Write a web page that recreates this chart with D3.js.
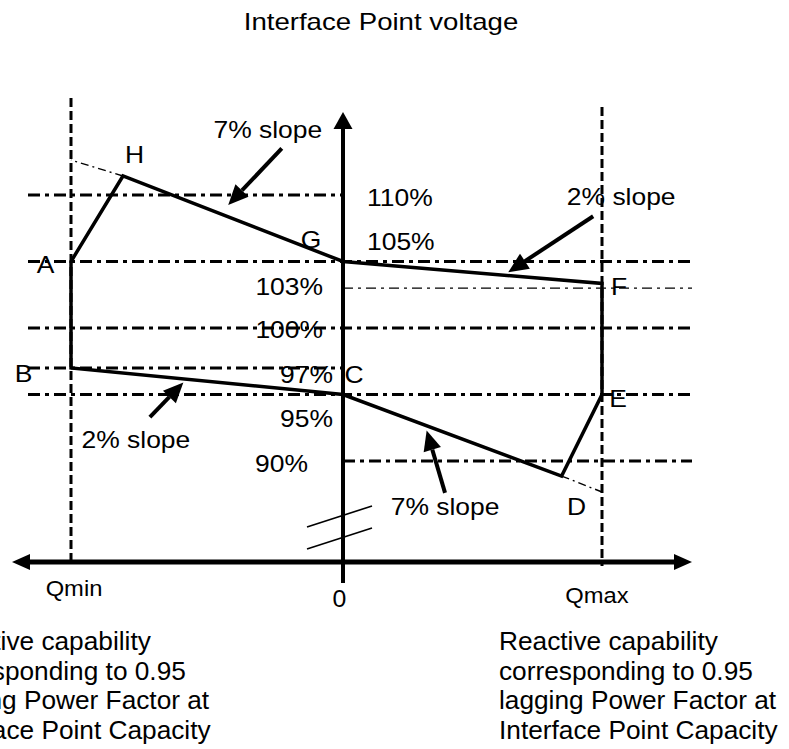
<!DOCTYPE html>
<html>
<head>
<meta charset="utf-8">
<script src="https://cdn.jsdelivr.net/npm/d3@7"></script>
<style>
  body { margin: 0; background: #FFFFFF; }
  svg { display: block; font-family: "Liberation Sans", Arial, sans-serif; }
</style>
</head>
<body>
<svg width="789" height="749"></svg>
<script>
//--Data
//Voltage reference levels (%)
const refLevels = [110, 105, 103, 100, 97, 95, 90];
const refLabels = ["110%", "105%", "103%", "100%", "97%", "95%", "90%"];
const refSpan = ["left", "full", "right", "full", "left", "full", "right"];

//Capability curve corners (Q in per unit of Qmin/Qmax, V in %)
const cornerNames = ["A", "H", "G", "F", "E", "D", "C", "B"];
const cornerQ = [-1, -0.809, 0, 1, 1, 0.844, 0, -1];
const cornerV = [105, 111.43, 105, 103.35, 95, 88.87, 95, 97];

//Slope extensions beyond H and D
const extFromQ = [-0.809, 0.844];
const extFromV = [111.43, 88.87];
const extToQ = [-1, 1];
const extToV = [112.63, 87.67];

//Slope annotation arrows
const arrowText = ["7% slope", "2% slope", "2% slope", "7% slope"];
const arrowTailQ = [-0.225, 0.966, -0.71, 0.394];
const arrowTailV = [113.5, 108.4, 93.3, 87.6];
const arrowTipQ = [-0.422, 0.638, -0.587, 0.323];
const arrowTipV = [109.25, 104.2, 95.9, 92.3];

//Q axis labels
const qTicks = [-1, 0, 1];
const qTickLabels = ["Qmin", "0", "Qmax"];

const noteLines = [
  ["Reactive capability", "corresponding to 0.95", "leading Power Factor at", "Interface Point Capacity"],
  ["Reactive capability", "corresponding to 0.95", "lagging Power Factor at", "Interface Point Capacity"]
];


//--Setup
const canvas = {
  width: 789,
  height: 749,
  left: 28,
  right: 692,
  arrowLeft: 12,
  axisY: 562,
  axisTop: 112,
  axisBottom: 583,
  qTop: [98, 107],
  qBottom: 566,
  stretch: 1.15
};

const x = d3.scaleLinear().domain([-1, 0, 1]).range([71, 343, 602]);
const y = d3.scaleLinear().domain([90, 110]).range([461, 195]);

const root = d3.select("svg");

function arrowHead(g, x1, y1, x2, y2, len, half) {
  const a = Math.atan2(y2 - y1, x2 - x1);
  const bx = x2 - len * Math.cos(a), by = y2 - len * Math.sin(a);
  const px = -Math.sin(a) * half, py = Math.cos(a) * half;
  g.append("path")
    .attr("d", "M" + x2 + "," + y2 + "L" + (bx + px) + "," + (by + py) + "L" + (bx - px) + "," + (by - py) + "Z")
    .attr("fill", "#000");
  return [bx, by];
}

function label(g, txt, tx, ty, size, anchor, sx) {
  g.append("text")
    .attr("transform", "translate(" + tx + "," + ty + ") scale(" + (sx || canvas.stretch) + ",1)")
    .attr("text-anchor", anchor || "middle")
    .style("font-size", size + "px")
    .attr("fill", "#000")
    .text(txt);
}


//--Reference voltage lines
const refG = root.append("g");
refLevels.forEach((v, i) => {
  const thin = v === 103;
  refG.append("line")
    .attr("x1", refSpan[i] === "right" ? x(0) : canvas.left)
    .attr("x2", refSpan[i] === "left" ? x(0) : canvas.right)
    .attr("y1", y(v))
    .attr("y2", y(v))
    .attr("stroke", "#000")
    .attr("stroke-width", thin ? 1.3 : 3)
    .attr("stroke-dasharray", thin ? "10,5,3,5" : "12,5,4,5");
});

//Qmin / Qmax limits
[-1, 1].forEach((q, i) => {
  refG.append("line")
    .attr("x1", x(q)).attr("x2", x(q))
    .attr("y1", canvas.qTop[i]).attr("y2", canvas.qBottom)
    .attr("stroke", "#000")
    .attr("stroke-width", 3)
    .attr("stroke-dasharray", "9,4");
});


//--Axes
const axisG = root.append("g");
axisG.append("line")
  .attr("x1", canvas.arrowLeft + 14).attr("x2", canvas.right - 14)
  .attr("y1", canvas.axisY).attr("y2", canvas.axisY)
  .attr("stroke", "#000").attr("stroke-width", 5);
arrowHead(axisG, canvas.right - 30, canvas.axisY, canvas.right, canvas.axisY, 18, 8);
arrowHead(axisG, canvas.arrowLeft + 30, canvas.axisY, canvas.arrowLeft, canvas.axisY, 18, 8);

axisG.append("line")
  .attr("x1", x(0)).attr("x2", x(0))
  .attr("y1", canvas.axisTop + 12).attr("y2", canvas.axisBottom)
  .attr("stroke", "#000").attr("stroke-width", 4);
arrowHead(axisG, x(0), canvas.axisTop + 30, x(0), canvas.axisTop, 17, 9.5);

//Axis break marks
[0, 22].forEach(off => {
  axisG.append("line")
    .attr("x1", x(0) - 36).attr("y1", 527 + off)
    .attr("x2", x(0) + 29).attr("y2", 506 + off)
    .attr("stroke", "#000").attr("stroke-width", 1.6);
});


//--Capability curve
const corners = cornerQ.map((q, i) => [q, cornerV[i]]);
root.append("path")
  .datum(corners)
  .attr("d", d3.line().x(d => x(d[0])).y(d => y(d[1])).curve(d3.curveLinearClosed))
  .attr("fill", "none")
  .attr("stroke", "#000")
  .attr("stroke-width", 3.5)
  .attr("stroke-linejoin", "miter");

extFromQ.forEach((q, i) => {
  root.append("line")
    .attr("x1", x(q)).attr("y1", y(extFromV[i]))
    .attr("x2", x(extToQ[i])).attr("y2", y(extToV[i]))
    .attr("stroke", "#000")
    .attr("stroke-width", 1.4)
    .attr("stroke-dasharray", "8,4,2,4");
});


//--Slope arrows
const arrowG = root.append("g");
const arrowTextOffset = [[-14, -10], [28, -11], [-14, 31], [0, 22]];
arrowText.forEach((t, i) => {
  const x1 = x(arrowTailQ[i]), y1 = y(arrowTailV[i]);
  const x2 = x(arrowTipQ[i]), y2 = y(arrowTipV[i]);
  const [bx, by] = arrowHead(arrowG, x1, y1, x2, y2, 20, 9);
  arrowG.append("line")
    .attr("x1", x1).attr("y1", y1).attr("x2", bx).attr("y2", by)
    .attr("stroke", "#000").attr("stroke-width", 4);
  label(arrowG, t, x1 + arrowTextOffset[i][0], y1 + arrowTextOffset[i][1], 23);
});


//--Texts
const textG = root.append("g");

//Title
label(textG, "Interface Point voltage", 381, 29.5, 23, "middle", 1.2);

//Corner letters
const cornerOffset = [[-25.5, 11.5], [11.5, -13], [-32, -13.5], [17, 11.7], [16, 12.5], [15, 39], [11, -11.5], [-47.5, 14]];
cornerNames.forEach((n, i) => {
  label(textG, n, x(cornerQ[i]) + cornerOffset[i][0], y(cornerV[i]) + cornerOffset[i][1], 23);
});

//Voltage level labels
const levelLabelPos = [[367, 11, "start"], [367, -11.5, "start"], [323, 7, "end"], [323, 10, "end"], [333, 15, "end"], [333, 32.5, "end"], [308, 11, "end"]];
refLabels.forEach((t, i) => {
  label(textG, t, levelLabelPos[i][0], y(refLevels[i]) + levelLabelPos[i][1], 23, levelLabelPos[i][2]);
});

//Q labels
const qLabelPos = [[3, 34], [-3.5, 45], [-5, 41]];
qTicks.forEach((q, i) => {
  label(textG, qTickLabels[i], x(q) + qLabelPos[i][0], canvas.axisY + qLabelPos[i][1], i === 1 ? 23 : 22, "middle", 1.08);
});

//Notes under Qmin and Qmax
const noteX = [-68, 499];
noteLines.forEach((lines, j) => {
  lines.forEach((t, k) => {
    label(textG, t, noteX[j], 650 + k * 29.7, 25, "start", 1.05);
  });
});
</script>
</body>
</html>
